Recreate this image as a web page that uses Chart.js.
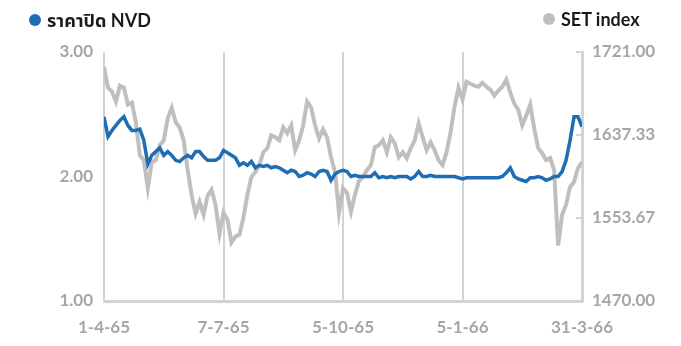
<!DOCTYPE html>
<html>
<head>
<meta charset="utf-8">
<script src="https://cdn.jsdelivr.net/npm/chart.js@4"></script>
<style>
  html, body { margin: 0; padding: 0; background: #fff; }
  #wrap { position: relative; width: 681px; height: 346px; }
  .leg { position: absolute; top: 8px; font-family: Lato, "Noto Sans Thai", "Noto Sans Thai UI", Loma, Garuda, "Noto Sans", sans-serif; font-weight: bold; font-size: 18px; color: #1a1a1a; white-space: nowrap; }
  .dot { display: inline-block; width: 12px; height: 12px; border-radius: 50%; margin-right: 6px; vertical-align: 1px; }
</style>
</head>
<body>
<div id="wrap">
  <canvas id="myChart" width="681" height="346"></canvas>
  <div class="leg" style="left:29px"><span class="dot" style="background:#1f6db3"></span>ราคาปิด NVD</div>
  <div class="leg" style="left:543px"><span class="dot" style="background:#bfbfbf"></span>SET index</div>
</div>
<script>
// DATA
const dateLabels = ["1-4-65", "7-7-65", "5-10-65", "5-1-66", "31-3-66"];
const nvdClose = [
  2.48, 2.32, 2.37, 2.41, 2.45, 2.48, 2.41, 2.37, 2.37, 2.38,
  2.29, 2.10, 2.17, 2.20, 2.23, 2.17, 2.20, 2.17, 2.13, 2.12,
  2.15, 2.17, 2.15, 2.20, 2.20, 2.16, 2.13, 2.13, 2.13, 2.15,
  2.21, 2.19, 2.17, 2.15, 2.09, 2.11, 2.09, 2.12, 2.07, 2.09,
  2.08, 2.09, 2.07, 2.08, 2.07, 2.05, 2.03, 2.05, 2.04, 2.00,
  2.01, 2.03, 2.02, 2.00, 2.04, 2.05, 2.04, 1.97, 2.02, 2.04,
  2.05, 2.04, 2.00, 2.01, 2.00, 2.00, 2.00, 2.00, 2.03, 1.99,
  2.00, 1.99, 2.00, 1.99, 2.00, 2.00, 2.00, 1.98, 2.00, 2.04,
  2.00, 2.00, 2.01, 2.00, 2.00, 2.00, 2.00, 2.00, 2.00, 1.99,
  1.98, 1.99, 1.99, 1.99, 1.99, 1.99, 1.99, 1.99, 1.99, 1.99,
  2.00, 2.03, 2.07, 2.00, 1.98, 1.97, 1.96, 1.99, 1.99, 2.00,
  1.99, 1.97, 1.98, 2.00, 2.00, 2.04, 2.13, 2.29, 2.48, 2.48,
  2.40
];
const setIndex = [
  1706, 1685, 1681, 1671, 1687, 1685, 1668, 1670, 1650, 1617,
  1612, 1584, 1610, 1612, 1627, 1632, 1654, 1665, 1650, 1645,
  1632, 1602, 1577, 1558, 1570, 1557, 1576, 1582, 1567, 1538,
  1559, 1552, 1529, 1535, 1537, 1554, 1577, 1595, 1600, 1607,
  1620, 1624, 1637, 1635, 1632, 1645, 1639, 1647, 1622, 1632,
  1647, 1671, 1665, 1647, 1634, 1643, 1635, 1615, 1600, 1559,
  1584, 1579, 1560, 1577, 1591, 1595, 1602, 1607, 1625, 1627,
  1632, 1620, 1635, 1629, 1615, 1620, 1614, 1624, 1632, 1649,
  1635, 1622, 1630, 1622, 1612, 1607, 1620, 1640, 1666, 1685,
  1673, 1691, 1689, 1687, 1686, 1690, 1686, 1683, 1677, 1682,
  1686, 1693, 1680, 1669, 1663, 1647, 1657, 1668, 1644, 1624,
  1619, 1612, 1614, 1602, 1526, 1557, 1567, 1585, 1590, 1604,
  1610
];
const leftTicks = [1, 2, 3];
const rightTicks = [1470, 1553.67, 1637.33, 1721];

const labelStep = 30;
const axisGray = "#d3d3d3";
const tickFont = { family: "Lato", size: 17, weight: "bold" };

// right axis ticks point into the plot
const innerTicks = {
  id: "innerTicks",
  afterDraw(chart) {
    const s = chart.scales.y1;
    const ctx = chart.ctx;
    ctx.save();
    ctx.strokeStyle = axisGray;
    ctx.lineWidth = 2;
    rightTicks.forEach(v => {
      const y = Math.round(s.getPixelForValue(v));
      ctx.beginPath();
      ctx.moveTo(chart.chartArea.right - 6, y);
      ctx.lineTo(chart.chartArea.right, y);
      ctx.stroke();
    });
    ctx.restore();
  }
};

const config = {
  type: "line",
  data: {
    datasets: [
      {
        label: "ราคาปิด NVD",
        data: nvdClose.map((v, i) => ({ x: i, y: v })),
        borderColor: "#1f6db3",
        borderWidth: 3.5,
        pointRadius: 0,
        tension: 0,
        yAxisID: "y",
        order: 0
      },
      {
        label: "SET index",
        data: setIndex.map((v, i) => ({ x: i, y: v })),
        borderColor: "#bfbfbf",
        borderWidth: 4,
        pointRadius: 0,
        tension: 0,
        yAxisID: "y1",
        order: 1
      }
    ]
  },
  options: {
    responsive: false,
    animation: false,
    layout: { padding: { top: 52 } },
    plugins: { legend: { display: false }, tooltip: { enabled: false } },
    scales: {
      x: {
        type: "linear",
        min: 0,
        max: nvdClose.length - 1,
        afterFit: s => { s.height = 45; },
        afterBuildTicks: s => {
          s.ticks = dateLabels.map((_, i) => ({ value: i * labelStep }));
        },
        ticks: {
          color: "#a6a6a6",
          font: tickFont,
          padding: 16,
          maxRotation: 0,
          callback: v => dateLabels[v / labelStep]
        },
        grid: { color: axisGray, lineWidth: 2, drawTicks: false },
        border: { display: true, color: axisGray, width: 3 }
      },
      y: {
        position: "left",
        min: 1,
        max: 3,
        afterFit: s => { s.width = 104; },
        afterBuildTicks: s => { s.ticks = leftTicks.map(v => ({ value: v })); },
        ticks: { color: "#a6a6a6", font: tickFont, padding: 3, callback: v => v.toFixed(2) },
        grid: { display: false },
        border: { display: false }
      },
      y1: {
        position: "right",
        min: 1470,
        max: 1721,
        afterFit: s => { s.width = 99; },
        afterBuildTicks: s => { s.ticks = rightTicks.map(v => ({ value: v })); },
        ticks: { color: "#a6a6a6", font: tickFont, padding: 2, callback: v => v.toFixed(2) },
        grid: { display: false },
        border: { display: true, color: axisGray, width: 3 }
      }
    }
  },
  plugins: [innerTicks]
};

function drawChart() {
  const ctx = document.getElementById("myChart");
  new Chart(ctx, config);
}
drawChart();
</script>
</body>
</html>
